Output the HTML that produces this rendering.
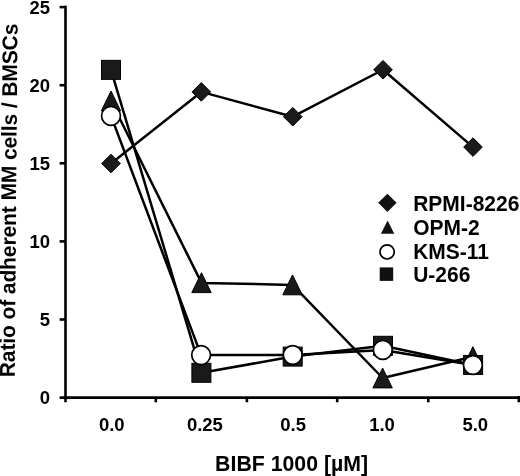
<!DOCTYPE html>
<html>
<head>
<meta charset="utf-8">
<style>
html,body{margin:0;padding:0;background:#fff;}
body{width:520px;height:476px;overflow:hidden;}
svg{display:block;will-change:transform;}
text{font-family:"Liberation Sans",sans-serif;font-weight:bold;fill:#000;}
.tl{font-size:18.5px;}
.tt{font-size:21px;}
</style>
</head>
<body>
<svg width="520" height="476" viewBox="0 0 520 476">
<!-- axes -->
<g stroke="#000" stroke-width="2.6" fill="none" stroke-linecap="butt">
  <line x1="65.5" y1="5.8" x2="65.5" y2="402.3"/>
  <line x1="59.6" y1="397.6" x2="520" y2="397.6"/>
  <!-- y ticks -->
  <line x1="59.6" y1="7.1" x2="65.5" y2="7.1"/>
  <line x1="59.6" y1="85.2" x2="65.5" y2="85.2"/>
  <line x1="59.6" y1="163.3" x2="65.5" y2="163.3"/>
  <line x1="59.6" y1="241.4" x2="65.5" y2="241.4"/>
  <line x1="59.6" y1="319.5" x2="65.5" y2="319.5"/>
  <!-- x ticks -->
  <line x1="155.8" y1="397.6" x2="155.8" y2="402.3"/>
  <line x1="246.9" y1="397.6" x2="246.9" y2="402.3"/>
  <line x1="337.2" y1="397.6" x2="337.2" y2="402.3"/>
  <line x1="428.3" y1="397.6" x2="428.3" y2="402.3"/>
  <line x1="518.8" y1="396" x2="518.8" y2="402.3"/>
</g>
<!-- y tick labels -->
<g class="tl" text-anchor="end">
  <text x="50.1" y="13.6">25</text>
  <text x="50.1" y="91.7">20</text>
  <text x="50.1" y="169.8">15</text>
  <text x="50.1" y="247.9">10</text>
  <text x="50.1" y="326">5</text>
  <text x="50.1" y="404.1">0</text>
</g>
<!-- x tick labels -->
<g class="tl" text-anchor="middle">
  <text x="111.8" y="431">0.0</text>
  <text x="204.9" y="431">0.25</text>
  <text x="293.1" y="431">0.5</text>
  <text x="382" y="431">1.0</text>
  <text x="475.3" y="431">5.0</text>
</g>
<!-- axis titles -->
<text class="tt" style="font-size:21.3px" transform="translate(291.6,471.3) scale(1,1.045)" text-anchor="middle">BIBF 1000 [µM]</text>
<text class="tt" style="letter-spacing:-0.1px" transform="translate(16.1,200.5) rotate(-89.53) scale(1,1.02)" text-anchor="middle">Ratio of adherent MM cells / BMSCs</text>

<!-- series lines -->
<g stroke="#000" stroke-width="2.5" fill="none" stroke-linejoin="round">
  <polyline points="111,163.5 201.3,91.9 292.8,116.7 383,69.75 473,147.1"/>
  <polyline points="111,101 201.5,282.9 292.5,284.9 382.6,378 472.9,356.7"/>
  <polyline points="111,115.9 201.1,355.1 292.7,355 382.8,349.9 472.9,365"/>
  <polyline points="111,69.85 201.4,372.8 292.7,356.6 383,345.8 473.1,365"/>
</g>

<!-- markers -->
<defs>
  <path id="dia" d="M0,-9.3 L9.3,0 L0,9.3 L-9.3,0 Z"/>
  <path id="tri" d="M0,-10 L9.7,9.9 L-9.7,9.9 Z"/>
  <rect id="sq" x="-9.5" y="-9.5" width="19" height="19"/>
</defs>
<g fill="#1a1a1a" stroke="#000" stroke-width="1">
  <use href="#dia" x="111" y="163.5"/>
  <use href="#dia" x="201.3" y="91.9"/>
  <use href="#dia" x="292.8" y="116.7"/>
  <use href="#dia" x="383" y="69.75"/>
  <use href="#dia" x="473" y="147.1"/>

  <use href="#tri" x="111" y="101"/>
  <use href="#tri" x="201.5" y="282.7"/>
  <use href="#tri" x="292.5" y="284.9"/>
  <use href="#tri" x="382.6" y="378"/>
  <use href="#tri" x="472.9" y="356.7"/>

  <use href="#sq" x="111" y="69.85"/>
  <use href="#sq" x="201.4" y="372.8"/>
  <use href="#sq" x="292.7" y="356.6"/>
  <use href="#sq" x="383" y="345.8"/>
  <use href="#sq" x="473.1" y="365"/>
</g>
<g fill="#fff" stroke="#000" stroke-width="1.7">
  <circle cx="111" cy="115.9" r="9.4"/>
  <circle cx="201.1" cy="355.1" r="9.4"/>
  <circle cx="292.7" cy="355" r="9.4"/>
  <circle cx="382.8" cy="349.9" r="9.4"/>
  <circle cx="472.9" cy="365" r="9.4"/>
</g>

<!-- legend -->
<path d="M387.4,193.7 L396.6,202.8 L387.4,211.9 L378.2,202.8 Z" fill="#111"/>
<path d="M387.6,220.5 L394.3,233.7 L380.9,233.7 Z" fill="#111"/>
<circle cx="387.1" cy="251.9" r="7.1" fill="#fff" stroke="#000" stroke-width="1.7"/>
<rect x="379.7" y="267.4" width="13.5" height="13.5" fill="#111"/>
<g class="tt">
  <text transform="translate(413.2,210.9) scale(1,1.045)">RPMI-8226</text>
  <text transform="translate(413.2,234.8) scale(1,1.045)">OPM-2</text>
  <text transform="translate(413.2,258.5) scale(1,1.045)">KMS-11</text>
  <text transform="translate(413.2,282.3) scale(1,1.045)">U-266</text>
</g>
</svg>
</body>
</html>
